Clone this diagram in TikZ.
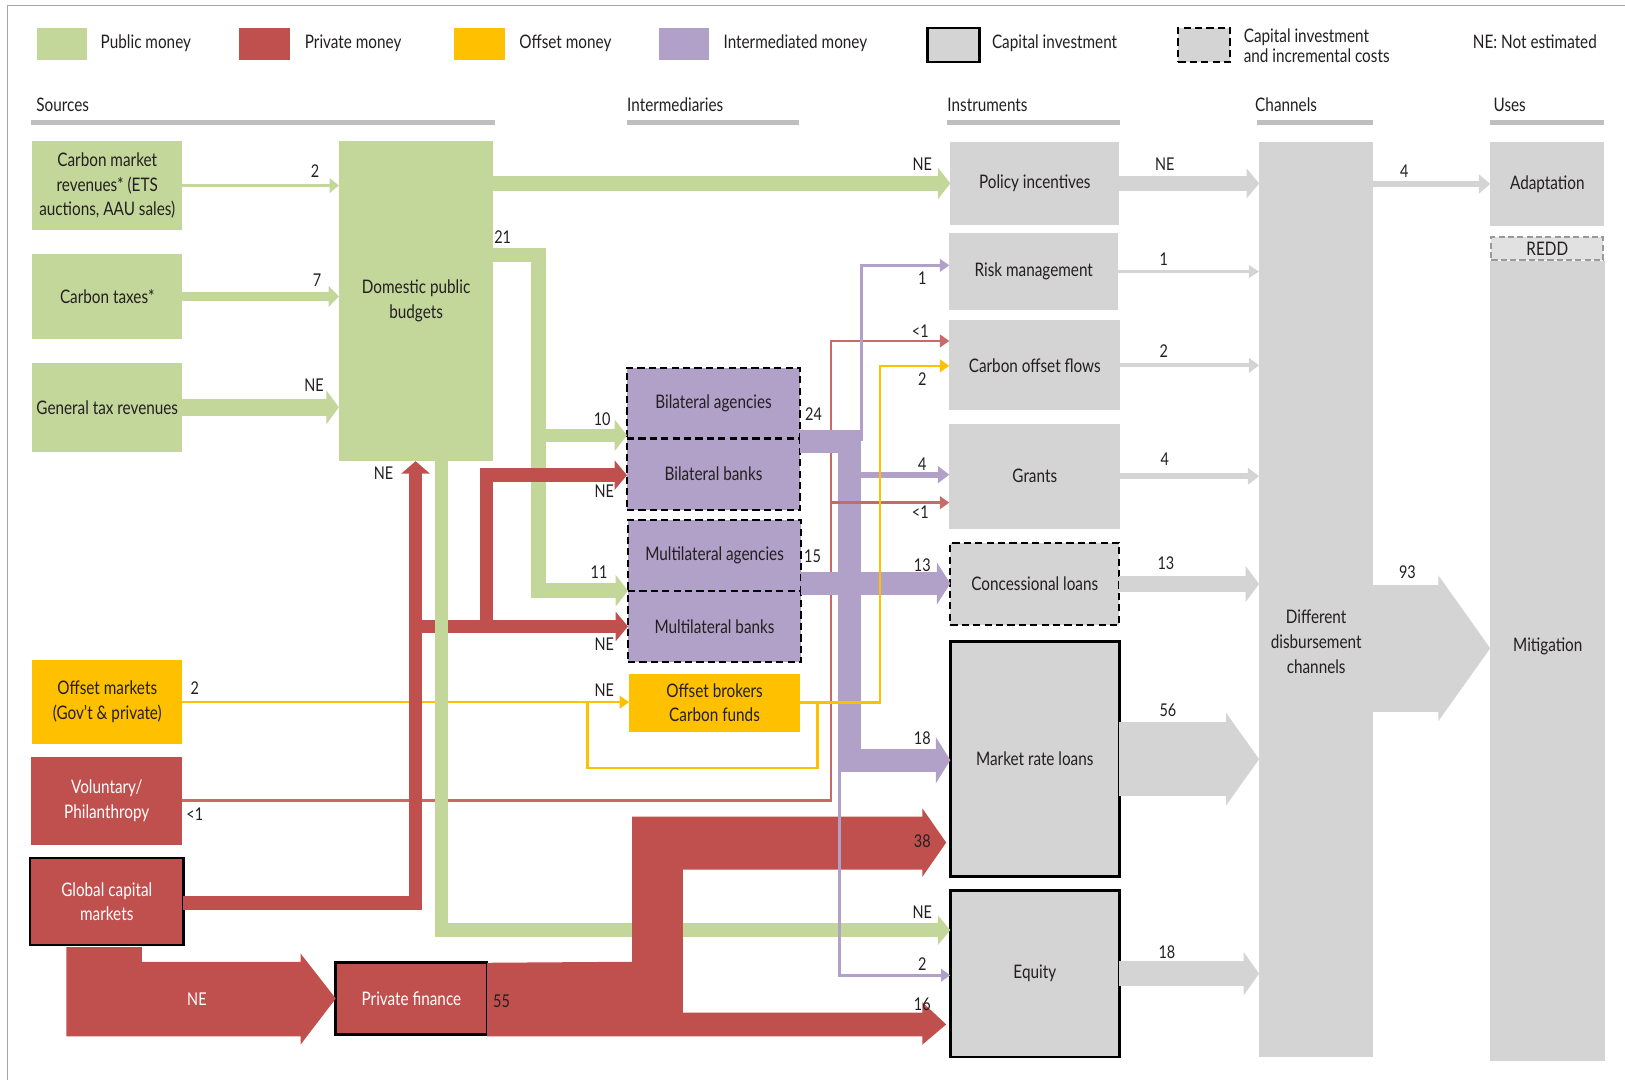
\documentclass[tikz,border=0pt]{standalone}
\usepackage{fontspec}
\setmainfont{Lato}[FakeStretch=0.82]
\usetikzlibrary{arrows.meta}

\definecolor{pubgreen}{HTML}{C4D79B}
\definecolor{privred}{HTML}{C0504D}
\definecolor{offorange}{HTML}{FFC000}
\definecolor{intpurple}{HTML}{B1A0C7}
\definecolor{capgray}{HTML}{D4D4D4}
\definecolor{bargray}{HTML}{BFBFBF}
\definecolor{ink}{HTML}{231F20}

\newcommand{\boxfont}{\fontsize{18}{24}\selectfont}
\newcommand{\numfont}{\fontsize{17}{20}\selectfont}

\tikzset{
  box/.style={inner sep=0pt, outer sep=0pt, align=center, font=\boxfont, text=ink},
  pub/.style={box, fill=pubgreen},
  priv/.style={box, fill=privred, text=white},
  off/.style={box, fill=offorange},
  inter/.style={box, fill=intpurple, draw=black, line width=2.2pt, dash pattern=on 7pt off 4pt},
  capbox/.style={box, fill=capgray},
  capsolid/.style={capbox, draw=black, line width=2.5pt},
  capdash/.style={capbox, draw=black, line width=2.2pt, dash pattern=on 7pt off 4pt},
  lgd/.style={inner sep=0pt, anchor=west, align=left, font=\boxfont, text=ink},
  hdr/.style={inner sep=0pt, anchor=base west, font=\boxfont, text=ink},
  hbar/.style={draw=bargray, line width=5pt},
  num/.style={inner sep=0pt, font=\numfont, text=ink},
  flow/.style n args={4}{draw=#1, line width=#2, -{Triangle[length=#3, width=#4]}},
  thinline/.style={draw=#1, line width=2.5pt},
}

\begin{document}
\begin{tikzpicture}[x=1pt, y=-1pt]
\useasboundingbox (0,0) rectangle (1568,1042);
\draw[gray!70, line width=1.2pt] (7,1042) -- (7,5) -- (1568,5);

% legend
\node[box, fill=pubgreen, minimum width=48, minimum height=31] (kpub) at (60,42.5) {};
\node[lgd] (tpub) at (97,42) {Public money};
\node[box, fill=privred, minimum width=49, minimum height=31] (kpriv) at (255.5,42.5) {};
\node[lgd] (tpriv) at (294,42) {Private money};
\node[box, fill=offorange, minimum width=49, minimum height=31] (koff) at (462.5,42.5) {};
\node[lgd] (toff) at (501,42) {Offset money};
\node[box, fill=intpurple, minimum width=48, minimum height=31] (kint) at (660,42.5) {};
\node[lgd] (tint) at (698,42) {Intermediated money};
\node[capsolid, minimum width=50, minimum height=33] (kcap) at (920,43.5) {};
\node[lgd] (tcap) at (957,42) {Capital investment};
\node[capdash, minimum width=50, minimum height=33] (kinc) at (1162,43.5) {};
\node[lgd, font=\fontsize{18}{20}\selectfont] (tinc) at (1200,44) {Capital investment\\and incremental costs};
\node[lgd] (tne) at (1421,40) {NE: Not estimated};

% column headers
\node[hdr] (hsrc) at (35,108) {Sources};
\node[hdr] (hint) at (605,108) {Intermediaries};
\node[hdr] (hins) at (914,108) {Instruments};
\node[hdr] (hchn) at (1211,108) {Channels};
\node[hdr] (huse) at (1441,108) {Uses};
\draw[hbar] (30,118) -- (478,118);
\draw[hbar] (605,118) -- (771,118);
\draw[hbar] (914,118) -- (1081,118);
\draw[hbar] (1213,118) -- (1325,118);
\draw[hbar] (1438,118) -- (1548,118);

% sources
\node[pub, minimum width=145, minimum height=86] (cmr) at (103.5,179) {Carbon market\\revenues* (ETS\\auctions, AAU sales)};
\node[pub, minimum width=145, minimum height=82] (ctax) at (103.5,286) {Carbon taxes*};
\node[pub, minimum width=145, minimum height=86] (gtax) at (103.5,393) {General tax revenues};
\node[pub, minimum width=149, minimum height=309] (dpb) at (401.5,290.5) {Domestic public\\budgets};
\node[off, minimum width=145, minimum height=81] (offm) at (103.5,677.5) {Offset markets\\(Gov’t \& private)};
\node[priv, minimum width=146, minimum height=85] (vol) at (103,772.5) {Voluntary/\\Philanthropy};
\node[priv, draw=black, line width=2.5pt, minimum width=148, minimum height=84] (gcm) at (103,870) {Global capital\\markets};
\node[priv, draw=black, line width=2.5pt, minimum width=146, minimum height=69] (pf) at (397,963.5) {Private finance};

% intermediaries
\node[inter, minimum width=167, minimum height=68] (bag) at (688.5,389) {Bilateral agencies};
\node[inter, minimum width=167, minimum height=69] (bbk) at (688.5,457.5) {Bilateral banks};
\node[inter, minimum width=167, minimum height=68] (mag) at (689.5,536) {Multilateral agencies};
\node[inter, minimum width=167, minimum height=69] (mbk) at (689.5,604.5) {Multilateral banks};
\node[off, minimum width=165, minimum height=56] (obr) at (689.5,678) {Offset brokers\\Carbon funds};

% instruments
\node[capbox, minimum width=163, minimum height=80] (pol) at (998.5,177) {Policy incentives};
\node[capbox, minimum width=163, minimum height=74] (risk) at (997.5,262) {Risk management};
\node[capbox, minimum width=165, minimum height=87] (cof) at (998.5,352.5) {Carbon offset flows};
\node[capbox, minimum width=165, minimum height=101] (grt) at (998.5,459.5) {Grants};
\node[capdash, minimum width=163, minimum height=79] (con) at (998.5,563.5) {Concessional loans};
\node[capsolid, minimum width=163, minimum height=227] (mrl) at (998.5,732.5) {Market rate loans};
\node[capsolid, minimum width=163, minimum height=161] (eq) at (998.5,939.5) {Equity};

% channels and uses
\node[capbox, minimum width=110, minimum height=883] (ch) at (1270,578.5) {};
\node[box] (cht) at (1270,619) {Different\\disbursement\\channels};
\node[capbox, minimum width=110, minimum height=81] (adp) at (1493,177.5) {Adaptation};
\node[box, fill=capgray!70, draw=gray!80, line width=2pt, dash pattern=on 6pt off 3pt, minimum width=108, minimum height=22] (redd) at (1493,240) {REDD};
\node[capbox, minimum width=111, minimum height=772] (mit) at (1493.5,638) {};
\node[box] (mitt) at (1493.5,624) {Mitigation};

% thin flows underneath
\draw[thinline=offorange, -{Triangle[length=9pt, width=12pt]}] (offm.east) -- (offm.east -| obr.west);
\draw[thinline=offorange] (567,678) -- (567,741) -- (789,741) -- (789,678);
\draw[thinline=privred!85, -{Triangle[length=9pt, width=12pt]}] (vol.east) -- (802,0 |- vol.east) -- (802,329) -- (cof.west |- 0,329);

% public and private flows
\draw[flow={pubgreen}{3.5pt}{9pt}{14pt}] (cmr.east) -- (cmr.east -| dpb.west);
\draw[flow={pubgreen}{8pt}{10pt}{20pt}] (ctax.east) -- (ctax.east -| dpb.west);
\draw[flow={pubgreen}{16pt}{12pt}{32pt}] (gtax.east) -- (gtax.east -| dpb.west);
\draw[flow={privred}{13pt}{12pt}{27pt}] (gcm.east |- 0,871.5) -- (401,871.5) -- (401,0 |- dpb.south);
\draw[flow={privred}{13pt}{12pt}{28pt}] (401,604.5) -- (mbk.west |- 0,604.5);
\draw[flow={pubgreen}{14pt}{12pt}{30pt}] (dpb.east |- pol.west) -- (pol.west);
\draw[flow={pubgreen}{14pt}{12pt}{30pt}] (dpb.east |- 0,246) -- (519.5,246) -- (519.5,570) -- (mag.south west);
\draw[flow={pubgreen}{13pt}{12pt}{30pt}] (519.5,420) -- (bag.west |- 0,420);
\draw[flow={pubgreen}{13pt}{12pt}{28pt}] (dpb.south -| 426,0) -- (426,897.5) -- (eq.west |- 0,897.5);
\draw[flow={privred}{13pt}{12pt}{28pt}] (469.5,604.5) -- (469.5,458.5) -- (bbk.west |- 0,458.5);
\fill[privred] (64,914) -- (137,914) -- (137,928) -- (290,928) -- (290,920) -- (pf.west)
  -- (290,1008) -- (290,1000) -- (64,1000) -- cycle;
\fill[privred] (pf.north east) -- (610,928) -- (610,788) -- (890,788) -- (890,780) -- (913,813)
  -- (890,846) -- (890,839) -- (659,839) -- (659,977) -- (890,977) -- (890,967) -- (913,988.5)
  -- (890,1008) -- (890,1000) -- (pf.east |- 0,1000) -- cycle;

% intermediated flows
\draw[flow={intpurple}{22pt}{14pt}{44pt}] (bag.east |- 0,426) -- (820,426) -- (820,733.5) -- (mrl.west |- 0,733.5);
\draw[flow={intpurple}{22pt}{13pt}{40pt}] (mag.south east |- 0,563) -- (con.west |- 0,563);
\draw[flow={intpurple}{6pt}{11pt}{16pt}] (831,458) -- (grt.west |- 0,458);
\draw[flow={intpurple}{2.5pt}{9pt}{12pt}] (831,426) -- (831,256) -- (risk.west |- 0,256);
\draw[flow={intpurple}{2.5pt}{9pt}{12pt}] (810,740) -- (810,941) -- (eq.west |- 0,941);
\draw[thinline=privred!85, -{Triangle[length=9pt, width=12pt]}] (802,485) -- (grt.west |- 0,485);
\draw[thinline=offorange, -{Triangle[length=9pt, width=12pt]}] (obr.east) -- (849,0 |- obr.east) -- (849,353) -- (cof.west |- 0,353);

% capital flows
\draw[flow={capgray}{14pt}{12pt}{28pt}] (pol.east) -- (pol.east -| ch.west);
\draw[flow={capgray}{3pt}{10pt}{12pt}] (risk.east) -- (risk.east -| ch.west);
\draw[flow={capgray}{4pt}{10pt}{14pt}] (cof.east) -- (cof.east -| ch.west);
\draw[flow={capgray}{6pt}{11pt}{16pt}] (grt.east) -- (grt.east -| ch.west);
\draw[flow={capgray}{16pt}{13pt}{34pt}] (con.east) -- (con.east -| ch.west);
\draw[flow={capgray}{72pt}{32pt}{88pt}] (mrl.east) -- (mrl.east -| ch.west);
\draw[flow={capgray}{24pt}{15pt}{41pt}] (eq.east) -- (eq.east -| ch.west);
\draw[flow={capgray}{5pt}{11pt}{18pt}] (ch.east |- adp.west) -- (adp.west);
\draw[flow={capgray}{123pt}{50pt}{138pt}] (ch.east |- 0,625.5) -- (mit.west |- 0,625.5);

% amounts
\foreach \x/\y/\t [count=\i] in {304/165/2, 306/270/7, 303/372/NE, 890/158/NE, 485/229/21,
    581/404/10, 578/552/11, 583/474/NE, 583/622/NE, 370/457/NE, 583/666/NE, 188/664/2,
    188/786/{<1}, 785/400/24, 784/537/15, 890/268/1, 888/320/{<1}, 890/366/2, 890/448/4,
    888/494/{<1}, 890/545/13, 890/712/18, 890/812/38, 890/880/NE, 890/930/2, 890/969/16,
    1124/158/NE, 1123/250/1, 1123/339/2, 1124/443/4, 1125/543/13, 1127/685/56, 1126/919/18,
    1355/165/4, 1358/552/93, 484/966/55}
  \node[num] (n\i) at (\x,\y) {\t};
\node[num, text=white] (npf) at (190,964) {NE};
\end{tikzpicture}
\end{document}
